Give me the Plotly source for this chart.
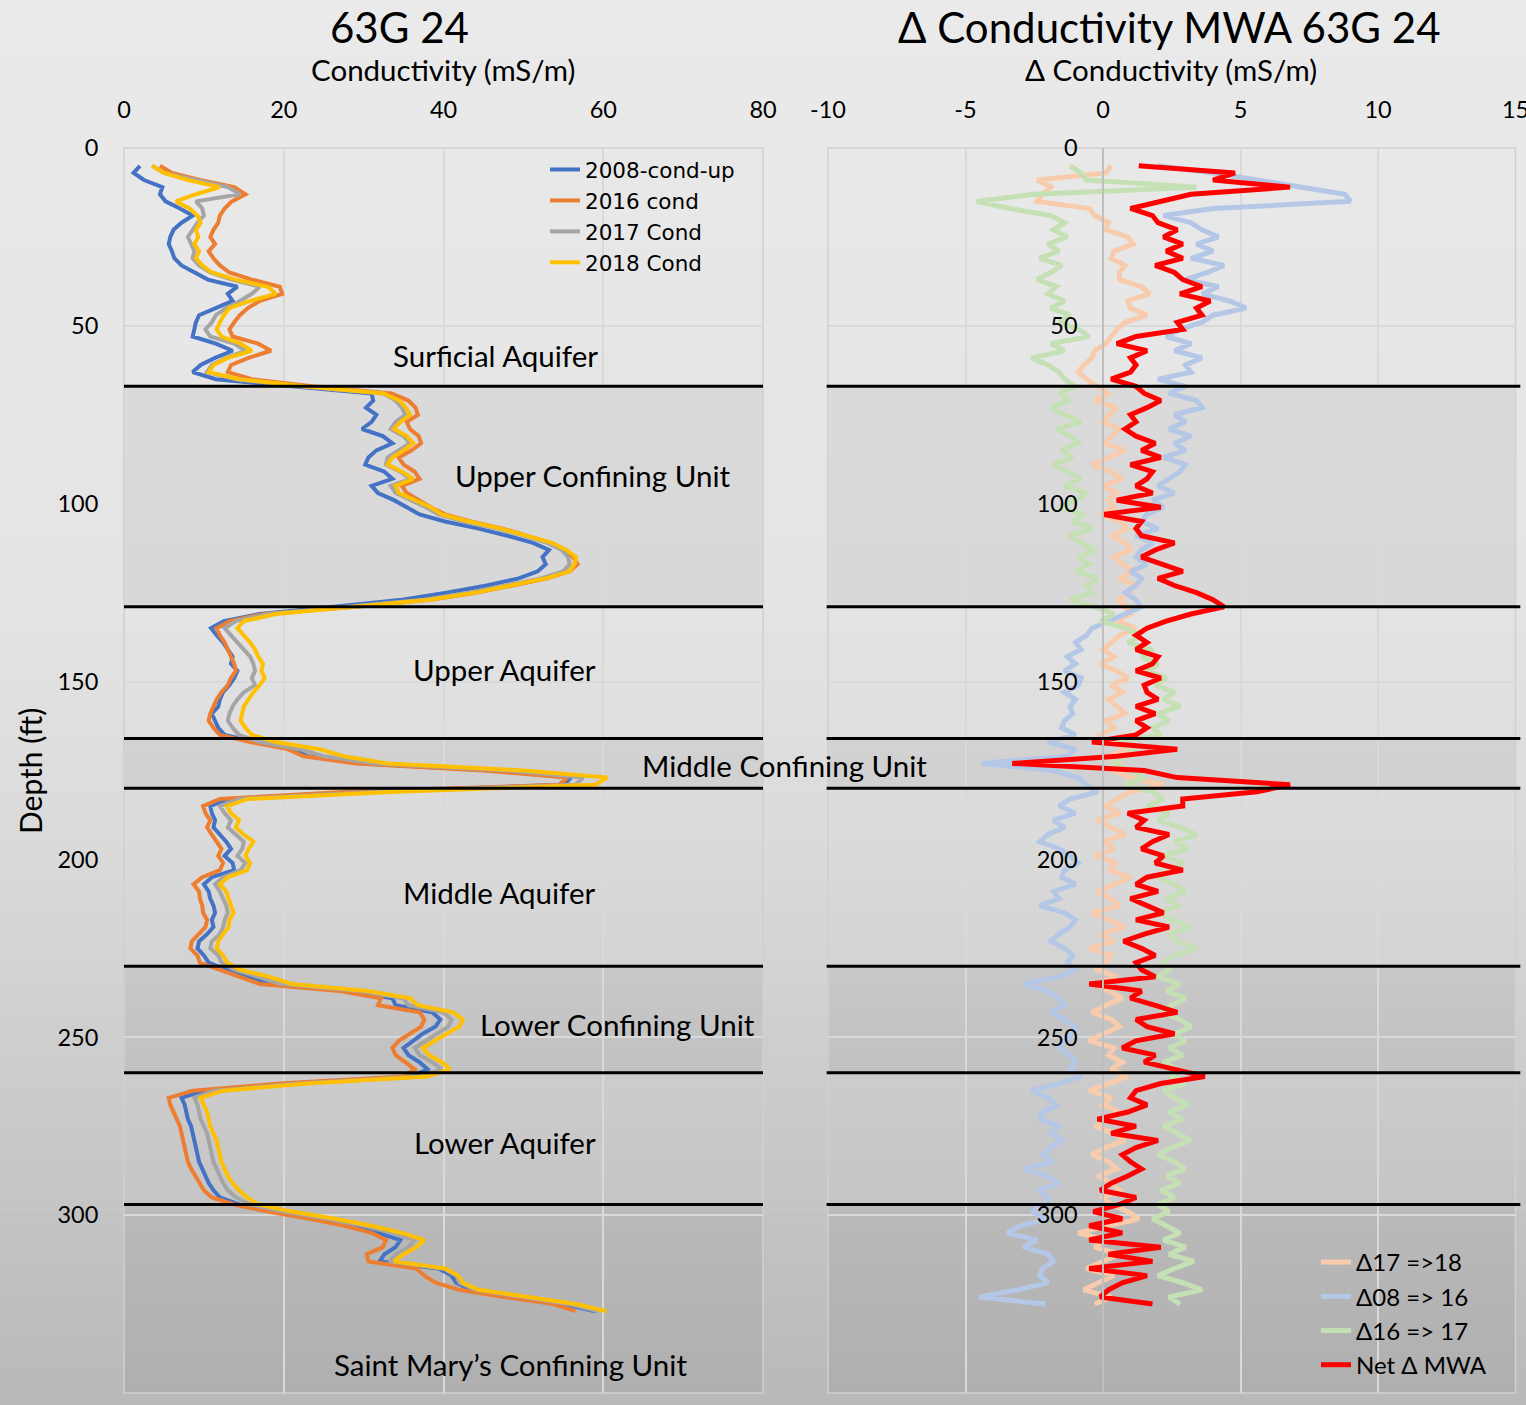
import plotly.graph_objects as go

# ---------------- DATA ----------------
DEPTH = list(range(5, 328, 2))      # ft, left panel samples
DEPTH_D = list(range(5, 326, 2))    # ft, right panel samples

COND_2008 = [
    2.0, 1.2, 2.5, 4.8, 4.5, 5.2, 7.0, 8.6, 7.2, 6.2,
    5.8, 5.6, 6.0, 6.3, 7.2, 8.8, 10.5, 14.2, 13.0, 13.6,
    11.5, 9.4, 9.0, 8.8, 8.6, 11.5, 13.6, 11.4, 9.6, 8.6,
    11.5, 21.0, 31.0, 31.2, 30.3, 31.6, 31.0, 29.8, 32.4, 33.6,
    31.6, 30.6, 30.2, 32.6, 33.6, 31.0, 31.8, 33.8, 35.4, 37.0,
    40.2, 44.4, 48.0, 51.2, 53.2, 52.4, 52.8, 51.8, 49.4, 45.4,
    40.4, 34.8, 26.0, 17.0, 12.5, 10.9, 11.6, 12.4, 13.0, 13.6,
    13.4, 14.2, 13.8, 13.2, 12.4, 12.0, 11.8, 11.0, 11.4, 11.8,
    12.6, 16.5, 21.0, 23.0, 30.0, 46.0, 56.0, 55.0, 30.0, 13.0,
    10.8, 11.0, 11.4, 11.2, 12.0, 12.8, 13.4, 12.6, 13.6, 13.8,
    11.0, 10.0, 10.6, 10.8, 11.2, 11.4, 11.0, 11.2, 10.4, 9.4,
    9.2, 10.0, 10.6, 12.8, 15.4, 18.0, 28.0, 33.6, 34.0, 38.6,
    39.6, 39.0, 37.4, 36.2, 35.0, 35.6, 37.0, 38.0, 36.0, 21.0,
    10.0, 7.2, 7.6, 7.8, 8.0, 8.4, 8.6, 8.8, 9.0, 9.2,
    9.4, 9.8, 10.2, 10.6, 11.2, 12.0, 14.4, 18.6, 23.8, 28.4,
    31.8, 34.6, 34.0, 32.6, 32.0, 39.4, 41.0, 41.6, 43.4, 49.0,
    55.0, 59.0]

COND_2016 = [
    4.5, 6.0, 9.5, 13.8, 15.2, 13.5, 12.6, 12.0, 11.8, 11.2,
    10.8, 11.4, 10.6, 11.2, 12.0, 13.2, 16.0, 19.5, 19.8, 17.0,
    15.5, 14.5, 13.8, 13.2, 13.6, 16.8, 18.4, 15.6, 13.4, 13.0,
    16.0, 23.5, 33.5, 35.6, 36.5, 36.8, 35.4, 35.8, 36.9, 37.2,
    36.0, 34.4, 35.0, 36.4, 37.0, 34.8, 35.4, 36.8, 38.4, 40.2,
    43.4, 47.4, 50.6, 53.4, 55.2, 56.2, 56.8, 55.8, 53.0, 48.6,
    44.2, 38.4, 29.0, 17.5, 13.2, 11.6, 12.0, 12.6, 13.0, 13.4,
    13.8, 14.0, 13.4, 13.0, 12.2, 11.6, 11.2, 10.8, 10.6, 11.2,
    12.0, 15.8, 20.5, 22.5, 29.0, 45.0, 55.5, 54.5, 28.0, 12.0,
    9.9, 10.2, 10.8, 10.4, 11.0, 11.6, 12.2, 11.8, 12.4, 12.0,
    9.8, 8.7, 9.4, 9.5, 9.8, 9.9, 10.4, 10.2, 9.4, 8.5,
    8.3, 9.2, 9.5, 12.0, 14.8, 17.0, 27.0, 32.2, 31.8, 37.0,
    37.6, 37.2, 35.8, 34.4, 33.6, 34.0, 35.2, 36.4, 35.0, 19.5,
    8.6, 5.6, 5.8, 6.2, 6.6, 7.0, 7.2, 7.4, 7.6, 7.8,
    8.0, 8.4, 8.9, 9.4, 10.0, 11.0, 13.8, 18.0, 23.2, 27.6,
    31.0, 32.8, 32.4, 30.4, 30.6, 36.6, 37.6, 39.0, 42.0, 47.6,
    53.8, 56.5]

COND_2017 = [
    3.5, 5.0, 9.0, 13.0, 14.5, 9.0, 9.8, 10.0, 9.2, 8.6,
    8.0, 8.4, 8.8, 8.6, 9.4, 10.8, 13.5, 17.0, 16.0, 14.5,
    12.8, 11.5, 11.0, 10.2, 10.8, 13.8, 15.2, 12.8, 11.0, 10.4,
    14.0, 22.0, 32.5, 34.0, 34.8, 35.2, 34.0, 33.4, 35.0, 35.8,
    34.4, 33.0, 32.8, 34.6, 35.8, 33.4, 34.0, 36.0, 37.8, 39.4,
    42.6, 46.8, 50.2, 53.0, 54.8, 55.6, 55.8, 55.0, 52.2, 47.8,
    43.2, 37.6, 28.0, 18.0, 14.0, 12.6, 13.4, 14.2, 15.0, 15.8,
    16.2, 16.4, 16.0, 16.4, 15.0, 14.2, 13.6, 13.2, 13.0, 13.6,
    14.4, 17.0, 22.0, 25.0, 31.5, 48.0, 57.5, 56.5, 32.0, 14.5,
    12.0, 12.6, 13.4, 13.0, 14.0, 15.0, 14.8, 14.2, 15.2, 14.6,
    12.4, 11.4, 12.0, 12.4, 12.8, 13.0, 12.6, 12.4, 12.0, 11.0,
    10.8, 11.8, 12.2, 13.8, 17.0, 19.8, 29.5, 35.0, 35.6, 40.0,
    41.0, 40.6, 39.2, 37.8, 36.4, 37.0, 38.6, 39.8, 37.0, 22.0,
    11.4, 8.8, 9.2, 9.4, 9.6, 10.0, 10.4, 10.6, 10.8, 11.0,
    11.2, 11.6, 12.0, 12.4, 13.0, 14.0, 15.8, 20.0, 25.4, 30.0,
    33.6, 36.4, 35.6, 34.0, 33.2, 40.0, 41.6, 42.0, 44.0, 50.0,
    55.6, 59.4]

COND_2018 = [
    3.5, 5.0, 8.0, 12.0, 9.0, 6.5, 8.2, 9.2, 9.6, 9.0,
    9.3, 8.8, 9.4, 9.0, 9.8, 11.0, 14.0, 18.0, 19.0, 15.8,
    13.2, 12.5, 12.0, 11.6, 12.2, 14.6, 16.0, 13.0, 11.2, 10.6,
    14.5, 22.5, 32.5, 34.5, 35.3, 35.8, 34.6, 33.8, 35.4, 36.2,
    35.0, 33.6, 33.0, 34.8, 36.2, 34.0, 34.4, 36.4, 38.4, 39.8,
    43.2, 47.2, 50.6, 53.6, 55.4, 56.6, 56.4, 55.8, 52.8, 48.4,
    44.0, 38.2, 29.0, 19.0, 15.0, 14.2, 15.0, 15.8, 16.4, 16.8,
    17.4, 17.2, 17.6, 17.0, 16.2, 15.6, 15.0, 14.8, 14.6, 15.2,
    16.0, 19.0, 24.5, 27.5, 33.0, 50.0, 60.5, 59.0, 34.0, 15.5,
    12.9, 13.4, 14.4, 14.0, 15.0, 16.2, 15.6, 15.2, 15.8, 15.4,
    13.0, 12.0, 12.8, 13.1, 13.4, 13.7, 13.2, 13.1, 12.4, 11.8,
    11.6, 12.4, 12.9, 14.5, 18.2, 21.0, 30.5, 35.8, 36.8, 41.2,
    42.4, 42.0, 40.4, 39.0, 37.4, 38.2, 39.8, 40.8, 38.0, 23.0,
    12.4, 9.6, 10.0, 10.4, 10.6, 10.8, 11.2, 11.6, 11.8, 12.0,
    12.2, 12.6, 13.0, 13.6, 14.4, 15.4, 16.8, 21.0, 26.4, 31.0,
    34.8, 37.6, 36.6, 35.0, 33.8, 40.2, 41.8, 42.4, 44.4, 50.6,
    56.6, 60.4]

DELTA_17_18 = [
    0.3, 0.1, -2.4, -1.9, -2.2, -2.4, -0.5, -0.3, 0.2, 0.1,
    0.9, 1.1, 0.4, 0.3, 0.8, 0.6, 0.6, 1.4, 1.7, 0.9,
    1.0, 1.6, 0.8, 0.5, 0.3, 0.1, -0.3, -0.4, -0.7, -0.9,
    -0.6, -0.2, 0.2, -0.3, 0.5, 0.2, 0.0, 0.6, 0.3, 0.1,
    0.8, 0.2, -0.4, 0.3, 0.7, 0.0, 0.5, 0.2, 0.4, -0.1,
    0.6, 0.9, 0.3, 0.8, 1.0, 0.4, 0.7, 1.1, 0.6, 1.2,
    0.9, 0.6, 0.8, 1.0, 0.5, 1.2, 0.6, 0.3, 0.0, 0.4,
    -0.1, 0.5, 0.9, 0.3, 0.7, 0.2, 0.5, 0.8, 0.1, 0.4,
    -0.1, 0.3, 0.9, 0.2, 0.6, 0.4, 1.0, 2.2, 1.0, 0.5,
    0.1, 0.6, -0.2, 0.3, 0.8, 0.0, 0.4, -0.3, 0.5, 0.2,
    1.0, 0.4, -0.2, 0.3, 0.6, -0.4, 0.2, 0.8, -0.1, 0.4,
    -0.5, 0.3, 0.1, -0.2, 0.5, -0.3, 0.2, 0.7, 0.1, -0.4,
    0.3, 0.6, 0.0, -0.5, 0.4, 0.2, 0.7, 0.3, 0.9, 0.2,
    -0.5, 0.3, 0.0, 0.6, 0.2, -0.3, 0.4, 0.8, 0.1, -0.4,
    0.2, 0.5, -0.2, 0.3, 0.6, 0.0, 0.3, 0.9, 1.3, 0.2,
    -0.9, 0.1, -0.3, 0.6, 0.0, -0.6, 0.4, -0.2, -0.7, 0.3,
    -0.3]

DELTA_08_16 = [
    2.0, 4.0, 5.6, 7.2, 8.8, 9.0, 4.0, 2.2, 3.2, 3.6,
    4.2, 3.4, 4.0, 3.2, 4.4, 3.8, 3.0, 4.2, 3.6, 4.6,
    5.2, 4.0, 3.6, 2.8, 2.3, 3.2, 2.6, 3.6, 3.0, 3.2,
    2.0, 3.0, 2.4, 3.4, 3.6, 2.6, 3.0, 2.4, 3.2, 2.6,
    3.0, 2.2, 3.0, 2.8, 2.4, 2.0, 2.6, 1.8, 2.2, 1.6,
    1.4, 2.0, 1.2, 1.8, 1.4, 1.2, 1.6, 1.0, 1.4, 1.2,
    0.8, 1.2, 1.4, 0.8, 0.2, -0.4, -0.6, -1.0, -0.8, -1.3,
    -1.0, -1.4, -0.8, -0.9, -1.4, -1.0, -1.2, -1.1, -1.4, -1.5,
    -1.0, -2.0, -1.0, -1.3, -4.4, -1.8, -0.9, -0.6, -0.2, -1.2,
    -1.6, -1.0, -1.8, -1.4, -2.0, -2.3, -1.6, -1.2, -0.9, -1.4,
    -1.5, -1.0, -1.8, -1.6, -2.3, -1.4, -1.0, -1.2, -1.6, -1.9,
    -1.4, -1.1, -1.3, -1.0, -1.6, -2.9, -2.0, -1.6, -1.4, -1.9,
    -1.4, -1.0, -1.1, -1.4, -1.6, -1.2, -1.0, -1.2, -0.8, -1.6,
    -2.6, -2.0, -1.7, -2.2, -2.3, -1.6, -1.9, -1.5, -1.9, -2.2,
    -1.8, -2.9, -2.0, -1.6, -2.3, -2.0, -2.1, -2.6, -2.0, -3.0,
    -3.5, -2.4, -2.9, -2.0, -1.8, -2.2, -2.3, -2.0, -3.1, -4.5,
    -2.1]

DELTA_16_17 = [
    -1.2, -0.8, -0.6, 3.4, -2.5, -4.6, -3.4, -1.9, -1.4, -1.8,
    -1.3, -2.0, -1.6, -2.3, -1.5, -1.9, -2.4, -1.7, -2.0, -1.4,
    -1.9, -1.2, -1.6, -0.9, -0.5, -1.9, -1.4, -2.6, -2.0, -1.6,
    -1.4, -1.0, -1.6, -1.2, -1.9, -1.4, -0.8, -1.7, -1.2, -0.9,
    -1.5, -1.1, -1.8, -1.3, -0.8, -1.4, -0.6, -1.0, -1.6, -0.7,
    -1.1, -0.4, -1.2, -0.8, -0.3, -0.9, -0.5, -1.0, -0.2, -0.6,
    -0.4, -1.2, -0.3, 0.4, -0.1, 0.8, 1.4, 0.9, 1.8, 1.4,
    2.0, 1.6, 2.3, 1.9, 2.6, 2.2, 2.8, 2.0, 2.4, 1.8,
    2.1, 0.4, 1.2, 0.8, 0.3, 1.0, 1.5, 0.8, 1.8, 2.2,
    1.6, 2.4, 2.0, 2.8, 3.4, 2.6, 3.1, 2.2, 2.9, 2.4,
    2.0, 2.6, 3.0, 2.3, 2.8, 2.0, 2.5, 3.2, 2.4, 2.7,
    3.4, 2.6, 2.2, 2.4, 2.0, 2.8, 2.3, 3.0, 2.5, 2.1,
    2.8, 3.2, 2.6, 3.0, 2.4, 2.9, 2.2, 2.7, 2.5, 3.0,
    2.2, 2.6, 3.1, 2.4, 2.9, 2.2, 2.7, 3.2, 2.5, 2.0,
    2.6, 3.0, 2.3, 2.8, 2.1, 2.6, 2.0, 2.4, 1.8, 2.3,
    2.8, 2.2, 3.0, 2.4, 3.3, 2.6, 2.0, 2.9, 3.6, 2.4,
    2.8]

NET_MWA = [
    1.3, 4.8, 4.0, 6.8, 3.2, 2.0, 1.0, 1.8, 2.0, 2.7,
    2.2, 2.9, 2.3, 2.9, 1.9, 2.6, 2.9, 3.6, 2.8, 3.9,
    3.4, 3.6, 2.7, 2.9, 1.2, 0.5, 1.6, 1.0, 1.2, 1.0,
    0.3, 1.2, 1.5, 2.1, 1.6, 1.0, 1.2, 0.8, 1.2, 1.9,
    1.4, 2.1, 1.0, 1.8, 1.6, 1.2, 1.8, 0.5, 2.1, 0.0,
    1.4, 1.2, 1.4, 2.6, 1.9, 1.4, 2.2, 2.9, 2.0, 2.6,
    3.4, 4.0, 4.4, 3.2, 2.3, 1.6, 1.2, 1.6, 1.2, 2.0,
    1.8, 1.2, 2.1, 1.5, 1.6, 2.0, 1.2, 1.9, 1.2, 1.6,
    1.2, -0.4, 2.7, 0.5, -3.3, 1.5, 2.7, 6.8, 5.6, 2.9,
    2.9, 0.9, 1.5, 1.2, 2.4, 1.8, 1.4, 2.2, 1.9, 2.9,
    1.6, 1.2, 2.0, 1.0, 1.6, 2.2, 1.2, 2.4, 1.5, 0.75,
    1.4, 1.9, 1.2, 1.4, 1.9, -0.5, 1.4, 1.0, 1.9, 2.7,
    1.2, 1.6, 2.6, 1.2, 0.7, 1.9, 1.5, 2.6, 3.7, 2.1,
    1.2, 1.0, 1.6, 0.9, -0.2, 1.2, 0.3, 2.0, 1.2, 0.7,
    1.0, 1.4, 0.9, 0.3, -0.1, 1.2, 0.6, -0.35, 0.7, -0.5,
    0.7, -0.5, 2.1, 0.2, 1.8, -0.5, 1.6, 0.7, 0.2, -0.1,
    1.8]

COND_TICKS = [0, 20, 40, 60, 80]
DELTA_TICKS = [-10, -5, 0, 5, 10, 15]
DELTA_TICK_LABELS = ["-10", "-5", "0", "5", "10", "15"]
DEPTH_TICKS = [0, 50, 100, 150, 200, 250, 300, 350]

BOUNDARIES = [67, 129, 166, 180, 230, 260, 297]
CONFINING = [(67, 129), (166, 180), (230, 260), (297, 350)]

UNIT_NAMES = ["Surficial Aquifer", "Upper Confining Unit", "Upper Aquifer",
              "Middle Confining Unit", "Middle Aquifer", "Lower Confining Unit",
              "Lower Aquifer", "Saint Mary\u2019s Confining Unit"]

# ---------------- FIGURE ----------------
W, H = 1526, 1405
FONT = "Lato"

def px(xp):
    return xp / W

def py(yp):
    return 1 - yp / H

fig = go.Figure()

left_series = [("2008-cond-up", COND_2008, "#4472C4"),
               ("2016 cond", COND_2016, "#ED7D31"),
               ("2017 Cond", COND_2017, "#A5A5A5"),
               ("2018 Cond", COND_2018, "#FFC000")]
for name, vals, col in left_series:
    n = min(len(vals), len(DEPTH))
    fig.add_trace(go.Scatter(x=vals[:n], y=DEPTH[:n], mode="lines", name=name,
                             line=dict(color=col, width=4),
                             xaxis="x", yaxis="y", legend="legend"))

right_series = [("\u039417 =>18", DELTA_17_18, "#F8CBAD", 5),
                ("\u039408 => 16", DELTA_08_16, "#B4C7E7", 5),
                ("\u039416 => 17", DELTA_16_17, "#C5E0B4", 5),
                ("Net \u0394 MWA", NET_MWA, "#FF0000", 5)]
for name, vals, col, w in right_series:
    n = min(len(vals), len(DEPTH_D))
    fig.add_trace(go.Scatter(x=vals[:n], y=DEPTH_D[:n], mode="lines", name=name,
                             line=dict(color=col, width=w),
                             xaxis="x2", yaxis="y2", legend="legend2"))

shapes = []
# background vertical gradient
stops = [(0, 234), (600, 228), (850, 218), (1100, 203), (1405, 184)]
def grey_at(yp):
    for (y0, g0), (y1, g1) in zip(stops[:-1], stops[1:]):
        if y0 <= yp <= y1:
            return g0 + (g1 - g0) * (yp - y0) / (y1 - y0)
    return stops[-1][1]
NS = 80
for i in range(NS):
    y0p = H * i / NS
    y1p = H * (i + 1) / NS
    g = int(round(grey_at((y0p + y1p) / 2)))
    shapes.append(dict(type="rect", xref="paper", yref="paper", x0=0, x1=1,
                       y0=py(y1p) - 0.0005, y1=py(y0p) + 0.0005,
                       fillcolor=f"rgb({g},{g},{g})", line=dict(width=0), layer="below"))

# confining unit shading + plot frames
for xr, yr in (("x domain", "y"), ("x2 domain", "y2")):
    for a, b in CONFINING:
        shapes.append(dict(type="rect", xref=xr, yref=yr, x0=0, x1=1, y0=a, y1=b,
                           fillcolor="rgba(0,0,0,0.05)", line=dict(width=0), layer="below"))
    shapes.append(dict(type="rect", xref=xr, yref=yr + " domain",
                       x0=0, x1=1, y0=0, y1=1, fillcolor="rgba(0,0,0,0)",
                       line=dict(color="#D0D0D0", width=1.5), layer="below"))

# unit boundary lines
for b in BOUNDARIES:
    shapes.append(dict(type="line", xref="x domain", yref="y", x0=0, x1=1, y0=b, y1=b,
                       line=dict(color="black", width=3), layer="above"))
    shapes.append(dict(type="line", xref="x2 domain", yref="y2", x0=-0.002, x1=1.007,
                       y0=b, y1=b, line=dict(color="black", width=3), layer="above"))

annotations = []
def add_text(text, x, y, size, xref="paper", yref="paper", xanchor="center", angle=0):
    annotations.append(dict(text=text, x=x, y=y, xref=xref, yref=yref, showarrow=False,
                            xanchor=xanchor, yanchor="middle", textangle=angle,
                            font=dict(family=FONT, size=size, color="black")))

add_text("63G 24", px(399), py(27), 42)
add_text("Conductivity (mS/m)", px(443), py(70), 29.5)
add_text("\u0394 Conductivity MWA 63G 24", px(1169), py(27), 42)
add_text("\u0394 Conductivity (mS/m)", px(1171), py(70), 29.5)
add_text("Depth (ft)", px(30), py(771), 30, angle=-90)

unit_pos = [(59.6, 58.2, "right"), (76.2, 92.2, "right"), (59.4, 146.5, "right"),
            (64.6, 173.5, "left"), (59.4, 209.2, "right"), (79.2, 246.3, "right"),
            (59.4, 279.5, "right"), (48.4, 342.1, "center")]
for name, (ux, uy, anc) in zip(UNIT_NAMES, unit_pos):
    add_text(name, ux, uy, 29.5, xref="x", yref="y", xanchor=anc)

ydom = [py(1393), py(148)]
axis_common = dict(showgrid=True, gridcolor="#D9D9D9", gridwidth=1.5, zeroline=False,
                   ticks="outside", ticklen=20, tickcolor="rgba(0,0,0,0)",
                   tickfont=dict(family=FONT, size=23.5, color="black"),
                   fixedrange=True, automargin=False)

fig.update_layout(
    width=W, height=H,
    margin=dict(l=0, r=0, t=0, b=0, pad=0, autoexpand=False),
    paper_bgcolor="#E4E4E4", plot_bgcolor="rgba(0,0,0,0)",
    font=dict(family=FONT, color="black"),
    xaxis=dict(domain=[px(124), px(763)], range=[0, 80], side="top", anchor="y",
               tickvals=COND_TICKS, showline=False, **axis_common),
    yaxis=dict(domain=ydom, range=[350, 0], anchor="x", side="left",
               tickvals=DEPTH_TICKS, showline=False, **axis_common),
    xaxis2=dict(domain=[px(828), px(1515.5)], range=[-10, 15], side="top", anchor="y2",
                tickvals=DELTA_TICKS, ticktext=DELTA_TICK_LABELS, showline=False,
                ticklabeloverflow="allow", **axis_common),
    yaxis2=dict(domain=ydom, range=[350, 0], anchor="free", position=px(1103), side="left",
                tickvals=DEPTH_TICKS, showline=True, linecolor="#BFBFBF", linewidth=1.5,
                **axis_common),
    legend=dict(x=px(545), y=py(149), xanchor="left", yanchor="top",
                bgcolor="rgba(0,0,0,0)",
                font=dict(family="DejaVu Sans", size=21.5, color="black"),
                tracegroupgap=0),
    legend2=dict(x=px(1316), y=py(1240), xanchor="left", yanchor="top",
                 bgcolor="rgba(0,0,0,0)", font=dict(family=FONT, size=24, color="black"),
                 tracegroupgap=0),
    shapes=shapes,
    annotations=annotations,
    showlegend=True,
)

fig.write_html("out.html",
               config={"displayModeBar": False},
               post_script="document.body.style.margin='0px';document.body.style.overflow='hidden';")
